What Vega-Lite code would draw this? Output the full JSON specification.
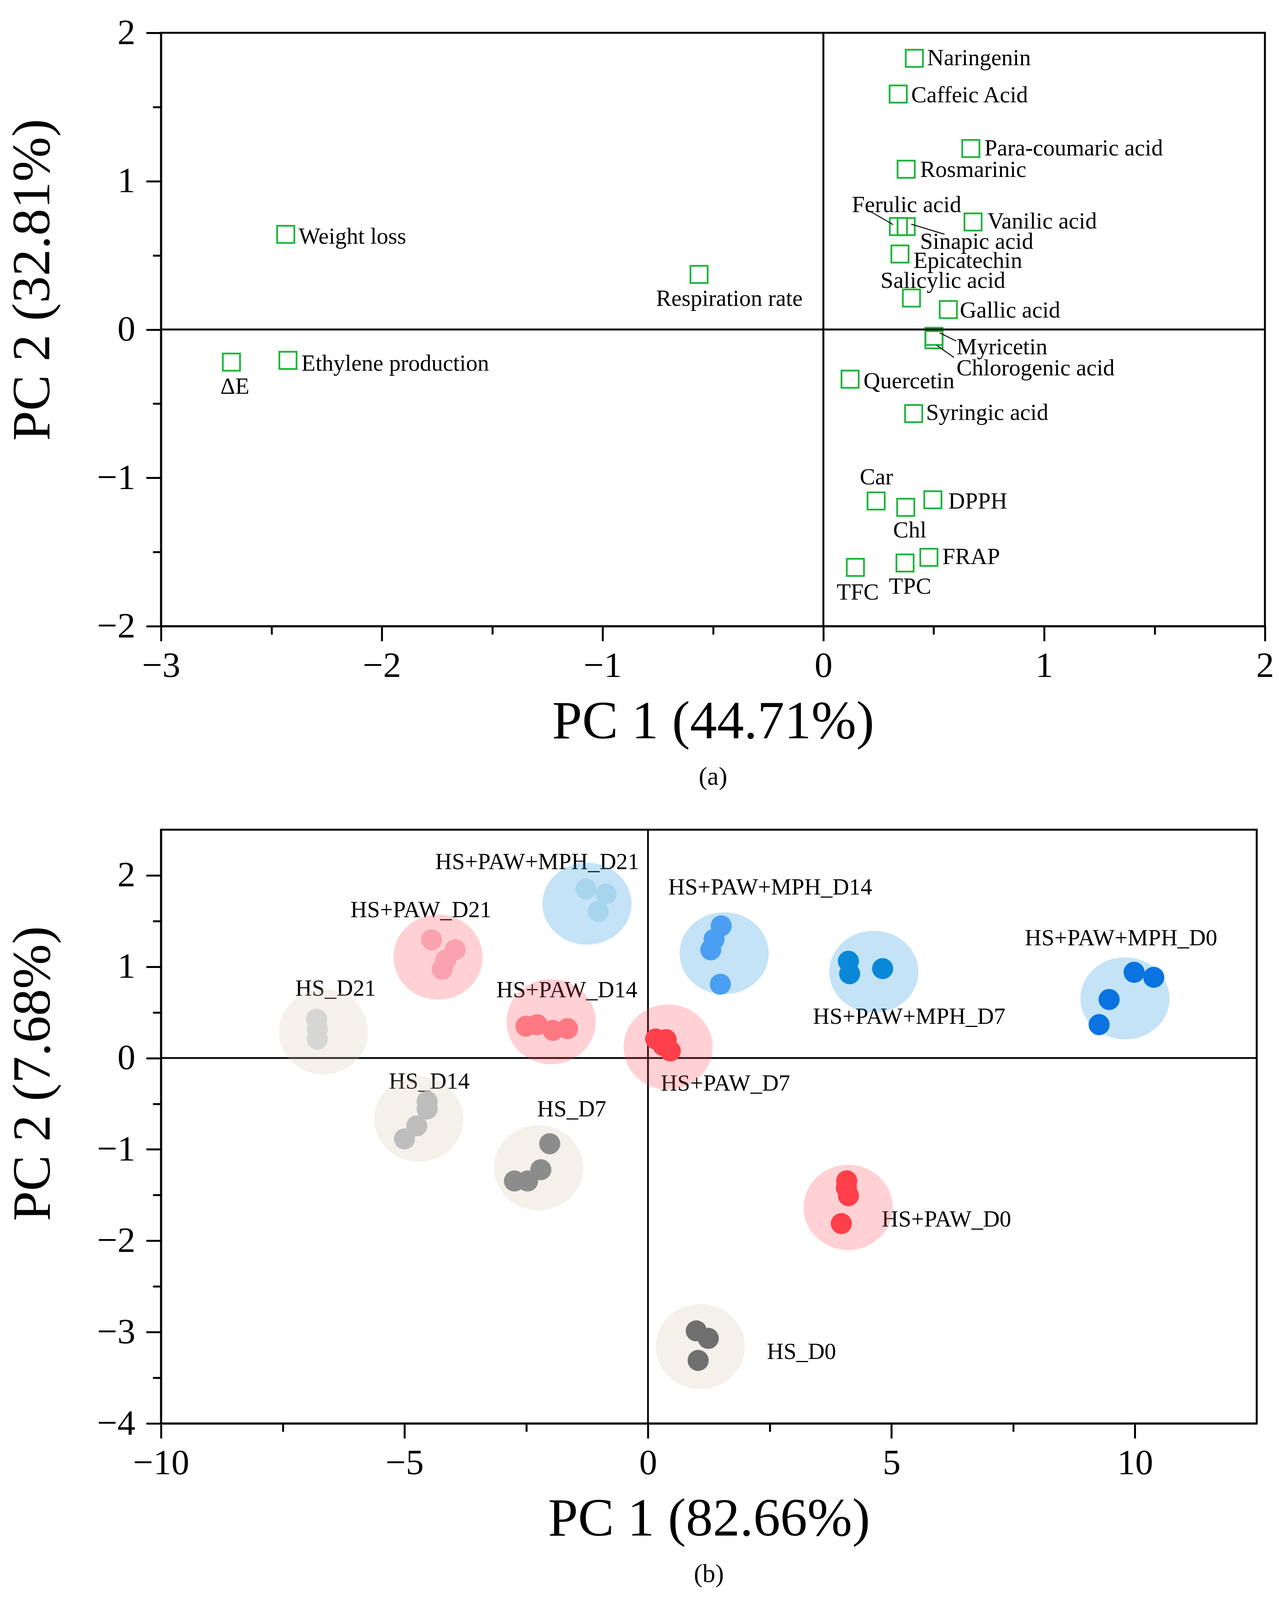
{
  "$schema": "https://vega.github.io/schema/vega-lite/v6.json",
  "background": "white",
  "padding": {"left": 12, "top": 35, "right": 20, "bottom": 20},
  "spacing": 94,
  "config": {
    "font": "Liberation Serif",
    "view": {"stroke": "black", "strokeWidth": 5},
    "axis": {"domainColor": "black", "domainWidth": 5, "tickColor": "black", "tickWidth": 5, "labelColor": "black", "labelFont": "Liberation Serif", "labelFontSize": 92, "titleFont": "Liberation Serif", "titleFontSize": 138, "titleFontWeight": "normal", "titleColor": "black", "grid": false, "labelOverlap": false, "labelFlush": false, "labelBound": false, "format": "d"},
    "title": {"font": "Liberation Serif", "fontSize": 66, "fontWeight": "normal", "color": "black"},
    "text": {"font": "Liberation Serif"}
  },
  "datasets": {
    "loadings": [
      {"name": "Naringenin", "x": 0.412, "y": 1.828, "lx": 0.470, "ly": 1.829},
      {"name": "Caffeic Acid", "x": 0.339, "y": 1.587, "lx": 0.398, "ly": 1.578},
      {"name": "Para-coumaric acid", "x": 0.668, "y": 1.220, "lx": 0.729, "ly": 1.220},
      {"name": "Rosmarinic", "x": 0.375, "y": 1.080, "lx": 0.438, "ly": 1.076},
      {"name": "Ferulic acid", "x": 0.340, "y": 0.694, "lx": 0.129, "ly": 0.839},
      {"name": "Sinapic acid", "x": 0.375, "y": 0.694, "lx": 0.438, "ly": 0.592},
      {"name": "Vanilic acid", "x": 0.678, "y": 0.725, "lx": 0.743, "ly": 0.729},
      {"name": "Epicatechin", "x": 0.347, "y": 0.509, "lx": 0.408, "ly": 0.463},
      {"name": "Salicylic acid", "x": 0.399, "y": 0.212, "lx": 0.259, "ly": 0.328},
      {"name": "Gallic acid", "x": 0.566, "y": 0.134, "lx": 0.618, "ly": 0.129},
      {"name": "Myricetin", "x": 0.501, "y": -0.046, "lx": 0.603, "ly": -0.120},
      {"name": "Chlorogenic acid", "x": 0.501, "y": -0.069, "lx": 0.603, "ly": -0.263},
      {"name": "Quercetin", "x": 0.121, "y": -0.335, "lx": 0.182, "ly": -0.349},
      {"name": "Syringic acid", "x": 0.409, "y": -0.567, "lx": 0.465, "ly": -0.562},
      {"name": "Car", "x": 0.239, "y": -1.156, "lx": 0.165, "ly": -0.998},
      {"name": "Chl", "x": 0.373, "y": -1.199, "lx": 0.316, "ly": -1.356},
      {"name": "DPPH", "x": 0.496, "y": -1.148, "lx": 0.566, "ly": -1.159},
      {"name": "FRAP", "x": 0.478, "y": -1.536, "lx": 0.539, "ly": -1.535},
      {"name": "TPC", "x": 0.370, "y": -1.574, "lx": 0.297, "ly": -1.735},
      {"name": "TFC", "x": 0.145, "y": -1.604, "lx": 0.060, "ly": -1.773},
      {"name": "Weight loss", "x": -2.435, "y": 0.641, "lx": -2.377, "ly": 0.626},
      {"name": "Respiration rate", "x": -0.563, "y": 0.371, "lx": -0.758, "ly": 0.207},
      {"name": "Ethylene production", "x": -2.425, "y": -0.208, "lx": -2.364, "ly": -0.230},
      {"name": "ΔE", "x": -2.681, "y": -0.220, "lx": -2.731, "ly": -0.385}
    ],
    "leaders": [
      {"name": "Ferulic acid", "x1": 0.215, "y1": 0.794, "x2": 0.316, "y2": 0.707},
      {"name": "Sinapic acid", "x1": 0.398, "y1": 0.710, "x2": 0.549, "y2": 0.642},
      {"name": "Myricetin", "x1": 0.527, "y1": -0.023, "x2": 0.602, "y2": -0.078},
      {"name": "Chlorogenic acid", "x1": 0.513, "y1": -0.106, "x2": 0.592, "y2": -0.189}
    ],
    "groups": [
      {"group": "HS_D21", "family": "HS", "cx": -6.661, "cy": 0.287, "lx": -7.242, "ly": 0.759},
      {"group": "HS_D14", "family": "HS", "cx": -4.705, "cy": -0.669, "lx": -5.321, "ly": -0.260},
      {"group": "HS_D7", "family": "HS", "cx": -2.245, "cy": -1.201, "lx": -2.276, "ly": -0.560},
      {"group": "HS_D0", "family": "HS", "cx": 1.072, "cy": -3.158, "lx": 2.442, "ly": -3.217},
      {"group": "HS+PAW_D21", "family": "HS+PAW", "cx": -4.311, "cy": 1.105, "lx": -6.110, "ly": 1.618},
      {"group": "HS+PAW_D14", "family": "HS+PAW", "cx": -1.990, "cy": 0.398, "lx": -3.114, "ly": 0.742},
      {"group": "HS+PAW_D7", "family": "HS+PAW", "cx": 0.413, "cy": 0.120, "lx": 0.261, "ly": -0.279},
      {"group": "HS+PAW_D0", "family": "HS+PAW", "cx": 4.111, "cy": -1.635, "lx": 4.799, "ly": -1.766},
      {"group": "HS+PAW+MPH_D21", "family": "HS+PAW+MPH", "cx": -1.252, "cy": 1.690, "lx": -4.368, "ly": 2.143},
      {"group": "HS+PAW+MPH_D14", "family": "HS+PAW+MPH", "cx": 1.563, "cy": 1.147, "lx": 0.415, "ly": 1.869},
      {"group": "HS+PAW+MPH_D7", "family": "HS+PAW+MPH", "cx": 4.638, "cy": 0.944, "lx": 3.387, "ly": 0.451},
      {"group": "HS+PAW+MPH_D0", "family": "HS+PAW+MPH", "cx": 9.795, "cy": 0.653, "lx": 7.738, "ly": 1.313}
    ],
    "dots": [
      {"group": "HS+PAW+MPH_D21", "x": -1.273, "y": 1.851},
      {"group": "HS+PAW+MPH_D21", "x": -0.864, "y": 1.796},
      {"group": "HS+PAW+MPH_D21", "x": -1.022, "y": 1.605},
      {"group": "HS+PAW_D21", "x": -4.443, "y": 1.294},
      {"group": "HS+PAW_D21", "x": -3.960, "y": 1.185},
      {"group": "HS+PAW_D21", "x": -4.153, "y": 1.075},
      {"group": "HS+PAW_D21", "x": -4.225, "y": 0.972},
      {"group": "HS_D21", "x": -6.806, "y": 0.426},
      {"group": "HS_D21", "x": -6.790, "y": 0.317},
      {"group": "HS_D21", "x": -6.790, "y": 0.207},
      {"group": "HS+PAW_D14", "x": -2.505, "y": 0.349},
      {"group": "HS+PAW_D14", "x": -2.276, "y": 0.365},
      {"group": "HS+PAW_D14", "x": -1.953, "y": 0.303},
      {"group": "HS+PAW_D14", "x": -1.652, "y": 0.322},
      {"group": "HS_D14", "x": -4.535, "y": -0.475},
      {"group": "HS_D14", "x": -4.535, "y": -0.557},
      {"group": "HS_D14", "x": -4.748, "y": -0.743},
      {"group": "HS_D14", "x": -5.000, "y": -0.885},
      {"group": "HS_D7", "x": -2.018, "y": -0.938},
      {"group": "HS_D7", "x": -2.201, "y": -1.222},
      {"group": "HS_D7", "x": -2.472, "y": -1.346},
      {"group": "HS_D7", "x": -2.742, "y": -1.346},
      {"group": "HS_D0", "x": 0.992, "y": -2.987},
      {"group": "HS_D0", "x": 1.238, "y": -3.069},
      {"group": "HS_D0", "x": 1.030, "y": -3.310},
      {"group": "HS+PAW_D0", "x": 4.081, "y": -1.344},
      {"group": "HS+PAW_D0", "x": 4.073, "y": -1.419},
      {"group": "HS+PAW_D0", "x": 4.116, "y": -1.507},
      {"group": "HS+PAW_D0", "x": 3.970, "y": -1.812},
      {"group": "HS+PAW_D7", "x": 0.158, "y": 0.209},
      {"group": "HS+PAW_D7", "x": 0.372, "y": 0.202},
      {"group": "HS+PAW_D7", "x": 0.312, "y": 0.137},
      {"group": "HS+PAW_D7", "x": 0.458, "y": 0.078},
      {"group": "HS+PAW+MPH_D14", "x": 1.503, "y": 1.447},
      {"group": "HS+PAW+MPH_D14", "x": 1.357, "y": 1.300},
      {"group": "HS+PAW+MPH_D14", "x": 1.289, "y": 1.185},
      {"group": "HS+PAW+MPH_D14", "x": 1.486, "y": 0.808},
      {"group": "HS+PAW+MPH_D7", "x": 4.116, "y": 1.060},
      {"group": "HS+PAW+MPH_D7", "x": 4.141, "y": 0.923},
      {"group": "HS+PAW+MPH_D7", "x": 4.818, "y": 0.979},
      {"group": "HS+PAW+MPH_D0", "x": 9.982, "y": 0.939},
      {"group": "HS+PAW+MPH_D0", "x": 10.385, "y": 0.884},
      {"group": "HS+PAW+MPH_D0", "x": 9.469, "y": 0.641},
      {"group": "HS+PAW+MPH_D0", "x": 9.263, "y": 0.366}
    ]
  },
  "vconcat": [
    {
      "width": 2825,
      "height": 1519,
      "title": {"text": "(a)", "orient": "bottom", "offset": 40},
      "layer": [
        {
          "data": {"name": "loadings"},
          "mark": {"type": "point", "shape": "square", "filled": false, "stroke": "#1db43b", "strokeWidth": 4.5, "size": 1936, "opacity": 1},
          "encoding": {
            "x": {"field": "x", "type": "quantitative", "scale": {"domain": [-3, 2], "nice": false, "zero": false},
              "axis": {"title": "PC 1 (44.71%)", "values": [-3, -2.5, -2, -1.5, -1, -0.5, 0, 0.5, 1, 1.5, 2],
                "tickSize": {"condition": {"test": "datum.value % 1 !== 0", "value": 21}, "value": 38},
                "labelExpr": "datum.value % 1 === 0 ? datum.label : ''", "labelPadding": 18, "titlePadding": 30}},
            "y": {"field": "y", "type": "quantitative", "scale": {"domain": [-2, 2], "nice": false, "zero": false},
              "axis": {"title": "PC 2 (32.81%)", "values": [-2, -1.5, -1, -0.5, 0, 0.5, 1, 1.5, 2],
                "tickSize": {"condition": {"test": "datum.value % 1 !== 0", "value": 21}, "value": 38},
                "labelExpr": "datum.value % 1 === 0 ? datum.label : ''", "labelPadding": 28, "titleX": -258, "titleY": 632}}
          }
        },
        {
          "data": {"values": [{}]},
          "mark": {"type": "rule", "color": "black", "strokeWidth": 5},
          "encoding": {"x": {"datum": 0, "type": "quantitative"}}
        },
        {
          "data": {"values": [{}]},
          "mark": {"type": "rule", "color": "black", "strokeWidth": 5},
          "encoding": {"y": {"datum": 0, "type": "quantitative"}}
        },
        {
          "data": {"name": "leaders"},
          "mark": {"type": "rule", "color": "black", "strokeWidth": 2.5},
          "encoding": {
            "x": {"field": "x1", "type": "quantitative"},
            "y": {"field": "y1", "type": "quantitative"},
            "x2": {"field": "x2"},
            "y2": {"field": "y2"}
          }
        },
        {
          "data": {"name": "loadings"},
          "mark": {"type": "text", "align": "left", "baseline": "middle", "fontSize": 59, "color": "black"},
          "encoding": {
            "x": {"field": "lx", "type": "quantitative"},
            "y": {"field": "ly", "type": "quantitative"},
            "text": {"field": "name"}
          }
        }
      ]
    },
    {
      "width": 2804,
      "height": 1520,
      "title": {"text": "(b)", "orient": "bottom", "offset": 40},
      "layer": [
        {
          "data": {"values": [{}]},
          "mark": {"type": "rule", "color": "black", "strokeWidth": 4.5},
          "encoding": {
            "x": {"datum": 0, "type": "quantitative", "scale": {"domain": [-10, 12.5], "nice": false, "zero": false},
              "axis": {"title": "PC 1 (82.66%)", "values": [-10, -7.5, -5, -2.5, 0, 2.5, 5, 7.5, 10],
                "tickSize": {"condition": {"test": "datum.value % 5 !== 0", "value": 21}, "value": 38},
                "labelExpr": "datum.value % 5 === 0 ? datum.label : ''", "labelPadding": 18, "titlePadding": 30}}
          }
        },
        {
          "data": {"values": [{}]},
          "mark": {"type": "rule", "color": "black", "strokeWidth": 4.5},
          "encoding": {
            "y": {"datum": 0, "type": "quantitative", "scale": {"domain": [-4, 2.5], "nice": false, "zero": false},
              "axis": {"title": "PC 2 (7.68%)", "values": [-4, -3.5, -3, -2.5, -2, -1.5, -1, -0.5, 0, 0.5, 1, 1.5, 2],
                "tickSize": {"condition": {"test": "datum.value % 1 !== 0", "value": 21}, "value": 38},
                "labelExpr": "datum.value % 1 === 0 ? datum.label : ''", "labelPadding": 28, "titleX": -257, "titleY": 624}}
          }
        },
        {
          "data": {"name": "groups"},
          "mark": {"type": "text", "align": "left", "baseline": "middle", "fontSize": 59, "color": "black"},
          "encoding": {
            "x": {"field": "lx", "type": "quantitative"},
            "y": {"field": "ly", "type": "quantitative"},
            "text": {"field": "group"}
          }
        },
        {
          "data": {"name": "groups"},
          "mark": {"type": "point", "filled": true, "opacity": 0.24, "strokeWidth": 0},
          "encoding": {
            "x": {"field": "cx", "type": "quantitative"},
            "y": {"field": "cy", "type": "quantitative"},
            "fill": {"field": "family", "type": "nominal", "scale": {"domain": ["HS", "HS+PAW", "HS+PAW+MPH"], "range": ["#cdc5a8", "#ff3f4a", "#0a88d8"]}, "legend": null},
            "size": {"field": "family", "type": "nominal", "scale": {"domain": ["HS", "HS+PAW", "HS+PAW+MPH"], "range": [51984, 51984, 96100]}, "legend": null},
            "shape": {"field": "family", "type": "nominal", "scale": {"domain": ["HS", "HS+PAW", "HS+PAW+MPH"], "range": ["M-1,0A1,0.956,0,1,1,1,0A1,0.956,0,1,1,-1,0Z", "M-1,0A1,0.956,0,1,1,1,0A1,0.956,0,1,1,-1,0Z", "M-1,0A1,0.92,0,1,1,1,0A1,0.92,0,1,1,-1,0Z"]}, "legend": null}
          }
        },
        {
          "data": {"name": "dots"},
          "mark": {"type": "circle", "size": 2916, "opacity": 1},
          "encoding": {
            "x": {"field": "x", "type": "quantitative"},
            "y": {"field": "y", "type": "quantitative"},
            "color": {"field": "group", "type": "nominal", "legend": null,
              "scale": {"domain": ["HS_D21", "HS_D14", "HS_D7", "HS_D0", "HS+PAW_D21", "HS+PAW_D14", "HS+PAW_D7", "HS+PAW_D0", "HS+PAW+MPH_D21", "HS+PAW+MPH_D14", "HS+PAW+MPH_D7", "HS+PAW+MPH_D0"],
                "range": ["#d6d6d6", "#bdbdbd", "#8c8c8c", "#6f6f6f", "#faa2b0", "#ff7982", "#ff3f4a", "#ff3f4a", "#a8d5ee", "#4a9ff2", "#0a88d8", "#0a73e0"]}}
          }
        }
      ]
    }
  ]
}
